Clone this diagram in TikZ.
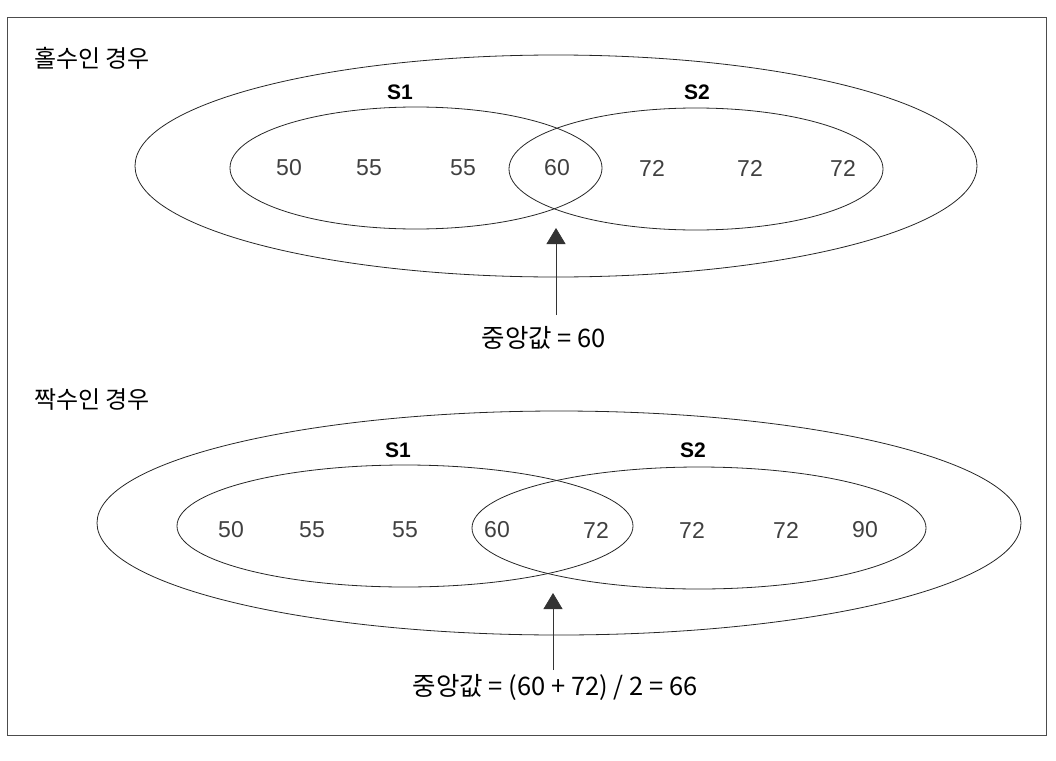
\documentclass[tikz,border=0pt]{standalone}
\usepackage{fontspec}
\setmainfont{Liberation Sans}
\newfontfamily\kr{Noto Sans CJK KR}
\usetikzlibrary{arrows.meta}
\begin{document}
\begin{tikzpicture}[x=1pt,y=-1pt,
  setline/.style={draw=black!85,line width=0.8pt},
  num/.style={font=\fontsize{23}{23}\selectfont,text=black!75,inner sep=0pt},
  lab/.style={font=\fontsize{21}{21}\selectfont\bfseries,inner sep=0pt},
  ttl/.style={font=\kr\fontsize{24}{24}\selectfont,anchor=west,inner sep=0pt},
  res/.style={font=\kr\fontsize{25.5}{25.5}\selectfont,inner sep=0pt},
  ptr/.style={draw=black!80,line width=0.8pt,-{Triangle[width=19pt,length=16pt]}}]
\useasboundingbox (0,0) rectangle (1056,760);
\draw[line width=0.8pt,black!70] (7,17) rectangle (1046,735);

% ---------- odd case ----------
\node[ttl] (t1) at (34,58) {홀수인 경우};
\draw[setline] (556,166) ellipse [x radius=421pt, y radius=111pt];
\draw[setline] (416,168) ellipse [x radius=186pt, y radius=61pt];
\draw[setline] (696,169) ellipse [x radius=187pt, y radius=61pt];
\node[lab] (s1a) at (400,92) {S1};
\node[lab] (s2a) at (697,92) {S2};
\node[num] (a1) at (289,168) {50};
\node[num] (a2) at (369,168) {55};
\node[num] (a3) at (463,168) {55};
\node[num] (a4) at (557,168) {60};
\node[num] (a5) at (652,168) {72};
\node[num] (a6) at (750,168) {72};
\node[num] (a7) at (843,168) {72};
\node[res] (r1) at (544,338) {중앙값 = 60};
\coordinate (p1) at (556,315);
\coordinate (q1) at (556,228);
\draw[ptr] (p1) -- (q1);

% ---------- even case ----------
\node[ttl] (t2) at (34,400) {짝수인 경우};
\draw[setline] (559,523) ellipse [x radius=462pt, y radius=112pt];
\draw[setline] (405,526) ellipse [x radius=228pt, y radius=61pt];
\draw[setline] (699,528) ellipse [x radius=227pt, y radius=61pt];
\node[lab] (s1b) at (398,450) {S1};
\node[lab] (s2b) at (693,450) {S2};
\node[num] (b1) at (231,530) {50};
\node[num] (b2) at (312,530) {55};
\node[num] (b3) at (405,530) {55};
\node[num] (b4) at (497,530) {60};
\node[num] (b5) at (596,530) {72};
\node[num] (b6) at (692,530) {72};
\node[num] (b7) at (786,530) {72};
\node[num] (b8) at (865,530) {90};
\node[res] (r2) at (555,687) {중앙값 = (60 + 72) / 2 = 66};
\coordinate (p2) at (553,670);
\coordinate (q2) at (553,593);
\draw[ptr] (p2) -- (q2);
\end{tikzpicture}
\end{document}
